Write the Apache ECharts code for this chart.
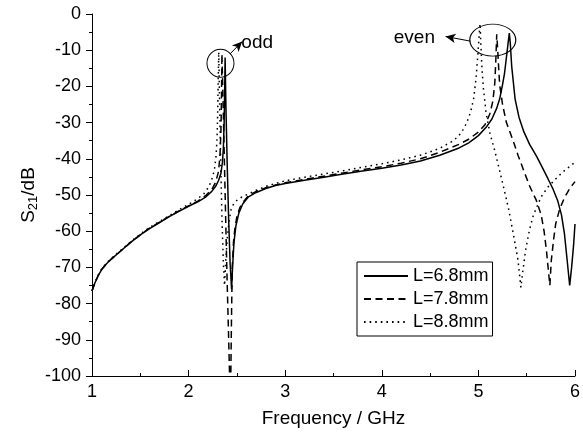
<!DOCTYPE html>
<html><head><meta charset="utf-8">
<script src="https://cdn.jsdelivr.net/npm/echarts@6/dist/echarts.min.js"></script>
<style>html,body{margin:0;padding:0;background:#fff}#c{width:583px;height:443px}</style>
</head><body><div id="c"></div>
<script>
// ---- data ----
const seriesNames = ['L=6.8mm', 'L=7.8mm', 'L=8.8mm'];

const freq68 = [1.00,1.03,1.06,1.10,1.15,1.20,1.30,1.40,1.50,1.60,1.70,1.80,1.90,2.00,2.10,2.18,2.24,2.28,2.31,2.335,2.35,2.36,2.368,2.374,2.378,2.386,2.40,2.415,2.43,2.445,2.455,2.47,2.49,2.52,2.56,2.62,2.70,2.80,2.90,3.00,3.20,3.40,3.60,3.80,4.00,4.20,4.40,4.60,4.80,4.90,5.00,5.08,5.14,5.19,5.22,5.25,5.27,5.29,5.31,5.32,5.33,5.345,5.38,5.42,5.47,5.53,5.60,5.66,5.72,5.77,5.82,5.86,5.89,5.915,5.945,5.965,5.985,6.00];
const db68   = [-76.5,-74.3,-72.5,-70.6,-69.0,-67.7,-65.4,-63.1,-61.0,-59.2,-57.6,-56.0,-54.5,-53.1,-51.8,-50.5,-49.0,-47.6,-46.0,-44.0,-41.0,-37.0,-30,-20,-12,-25,-42,-57,-69,-76,-70,-63,-58.5,-55,-52.5,-50.5,-49.3,-48.2,-47.4,-46.8,-45.9,-45.1,-44.2,-43.4,-42.6,-41.7,-40.6,-39.0,-37.0,-35.6,-33.6,-31.3,-29.0,-26,-23.5,-19.5,-16.5,-12,-7.5,-5.3,-8,-14.5,-23.5,-28.5,-32.5,-36,-39.2,-42.3,-45.5,-48.2,-51.5,-55.5,-60.5,-67,-75,-70,-64,-58];

const freq78 = [1.00,1.03,1.06,1.10,1.15,1.20,1.30,1.40,1.50,1.60,1.70,1.80,1.90,2.00,2.10,2.18,2.24,2.28,2.31,2.325,2.335,2.34,2.345,2.355,2.37,2.385,2.40,2.415,2.43,2.437,2.445,2.452,2.465,2.48,2.50,2.53,2.57,2.62,2.70,2.80,2.90,3.00,3.20,3.40,3.60,3.80,4.00,4.20,4.40,4.60,4.80,4.90,5.00,5.07,5.12,5.15,5.17,5.18,5.19,5.20,5.21,5.22,5.25,5.29,5.36,5.41,5.48,5.53,5.60,5.65,5.68,5.705,5.725,5.74,5.755,5.78,5.80,5.84,5.89,5.95,6.00];
const db78   = [-76.5,-74.3,-72.5,-70.6,-69.0,-67.7,-65.4,-63.1,-61.0,-59.1,-57.5,-55.9,-54.4,-53.0,-51.6,-50.1,-48.5,-46.5,-43.5,-39,-32,-24,-11,-22,-40,-58,-75,-90,-106,-100,-82,-70,-63,-59,-56,-53.5,-51.8,-50.2,-49.0,-48.0,-47.2,-46.6,-45.7,-44.8,-43.9,-43.0,-42.2,-41.2,-40.0,-38.2,-36.0,-34.6,-32.6,-30.5,-27.5,-24,-19,-13,-5.6,-10,-15,-19.5,-25,-30,-35,-39,-44,-47.5,-51.5,-55.5,-60,-65.5,-71,-75,-68,-62,-58,-54,-50.8,-48,-46.3];

const freq88 = [1.00,1.03,1.06,1.10,1.15,1.20,1.30,1.40,1.50,1.60,1.70,1.80,1.90,2.00,2.10,2.16,2.21,2.25,2.27,2.285,2.295,2.302,2.307,2.312,2.318,2.33,2.345,2.36,2.372,2.385,2.40,2.42,2.44,2.47,2.52,2.58,2.70,2.80,2.90,3.00,3.20,3.40,3.60,3.80,4.00,4.20,4.40,4.50,4.60,4.72,4.79,4.84,4.88,4.92,4.95,4.975,4.995,5.01,5.017,5.025,5.035,5.05,5.08,5.12,5.17,5.24,5.31,5.36,5.41,5.44,5.46,5.49,5.53,5.57,5.65,5.72,5.79,5.88,5.96,6.00];
const db88   = [-76.5,-74.2,-72.3,-70.4,-68.8,-67.5,-65.2,-62.9,-60.8,-58.9,-57.3,-55.7,-54.1,-52.6,-50.9,-49.6,-47.7,-45,-42.5,-39,-34,-26,-17,-10.5,-20,-38,-56,-69,-75,-68,-62,-57,-54,-52.2,-51,-50.2,-48.7,-47.6,-46.8,-46.1,-45.1,-44.2,-43.3,-42.3,-41.4,-40.3,-39.0,-38.1,-37.1,-35.3,-33.9,-32,-30,-27,-23.5,-18,-11,-5,-2.7,-8,-14,-20,-27.5,-33,-37.8,-45.5,-53.5,-60.5,-68,-75.5,-71,-65,-59.5,-55.5,-50.5,-47.8,-45.8,-43.5,-41.8,-41];

// annotations (data coordinates)
const oddEllipse  = [2.33, -13.6];
const evenEllipse = [5.149, -7.2];
const oddArrow  = [[2.43, -11.0], [2.555, -7.6]];
const evenArrow = [[4.917, -7.5], [4.66, -6.2]];
const oddText  = [2.71, -8.0];
const evenText = [4.337, -6.6];

// ---- chart ----
const FONT = 'Liberation Sans, Arial, sans-serif';
function zip(xs, ys) { return xs.map((x, i) => [x, ys[i]]); }

const chart = echarts.init(document.getElementById('c'), null, {renderer: 'canvas'});
const lineTypes = ['solid', [7, 4.5], [1.6, 4]];
const datas = [zip(freq68, db68), zip(freq78, db78), zip(freq88, db88)];

const series = seriesNames.map((n, i) => ({
  name: n, type: 'line', data: datas[i], showSymbol: false, symbol: 'none',
  lineStyle: {color: '#000', width: 1.5, type: lineTypes[i]},
  itemStyle: {color: '#000'}, clip: true, animation: false, silent: true,
  z: 3 - i
}));

const labelOf = (txt) => ({show: true, formatter: txt, position: 'inside', color: '#000', fontSize: 19, fontFamily: FONT});
series[0].markPoint = {
  silent: true, animation: false,
  data: [
    {coord: oddEllipse, symbol: 'circle', symbolSize: [27, 28],
     itemStyle: {color: 'rgba(0,0,0,0)', borderColor: '#000', borderWidth: 1}, label: {show: false}},
    {coord: evenEllipse, symbol: 'circle', symbolSize: [46, 32],
     itemStyle: {color: 'rgba(0,0,0,0)', borderColor: '#000', borderWidth: 1}, label: {show: false}},
    {coord: oddText, symbol: 'circle', symbolSize: 1, itemStyle: {color: 'rgba(0,0,0,0)'}, label: labelOf('odd')},
    {coord: evenText, symbol: 'circle', symbolSize: 1, itemStyle: {color: 'rgba(0,0,0,0)'}, label: labelOf('even')}
  ]
};
series[0].markLine = {
  silent: true, animation: false, symbol: ['none', 'arrow'], symbolSize: [7, 10],
  label: {show: false},
  lineStyle: {color: '#000', width: 1, type: 'solid'},
  emphasis: {disabled: true},
  data: [
    [{coord: oddArrow[0]}, {coord: oddArrow[1]}],
    [{coord: evenArrow[0]}, {coord: evenArrow[1]}]
  ]
};

chart.setOption({
  animation: false,
  backgroundColor: '#fff',
  textStyle: {fontFamily: FONT, color: '#000'},
  grid: {left: 92, right: 6, top: 14, bottom: 67, containLabel: false},
  legend: {
    orient: 'vertical', left: 357, top: 262,
    borderColor: '#000', borderWidth: 1, borderRadius: 0,
    padding: [5, 4, 5, 6], itemGap: 5, itemWidth: 44, itemHeight: 14,
    itemStyle: {color: 'rgba(0,0,0,0)', borderWidth: 0, opacity: 0},
    textStyle: {fontSize: 18, color: '#000', fontFamily: FONT},
    data: seriesNames, selectedMode: false
  },
  xAxis: {
    type: 'value', min: 1, max: 6, interval: 1,
    name: 'Frequency / GHz', nameLocation: 'middle', nameGap: 33, nameMoveOverlap: false,
    nameTextStyle: {fontSize: 19, color: '#000', fontFamily: FONT},
    axisLine: {show: true, onZero: false, lineStyle: {color: '#000', width: 1}},
    axisTick: {show: true, inside: true, length: 6, lineStyle: {color: '#000'}},
    minorTick: {show: true, splitNumber: 2, length: 3, lineStyle: {color: '#000'}},
    axisLabel: {fontSize: 18, color: '#000', margin: 7, fontFamily: FONT},
    splitLine: {show: false}
  },
  yAxis: {
    type: 'value', min: -100, max: 0, interval: 10,
    name: 'S{sub|21}/dB', nameLocation: 'middle', nameGap: 52, nameRotate: 90, nameMoveOverlap: false,
    nameTextStyle: {fontSize: 19, color: '#000', fontFamily: FONT,
      rich: {sub: {fontSize: 13, fontFamily: FONT, color: '#000', verticalAlign: 'bottom', padding: [9, 0, 0, 0]}}},
    axisLine: {show: true, onZero: false, lineStyle: {color: '#000', width: 1}},
    axisTick: {show: true, inside: false, length: 6, lineStyle: {color: '#000'}},
    minorTick: {show: true, splitNumber: 2, length: 3, lineStyle: {color: '#000'}},
    axisLabel: {fontSize: 18, color: '#000', margin: 11, fontFamily: FONT},
    splitLine: {show: false}
  },
  series: series
});
</script></body></html>
